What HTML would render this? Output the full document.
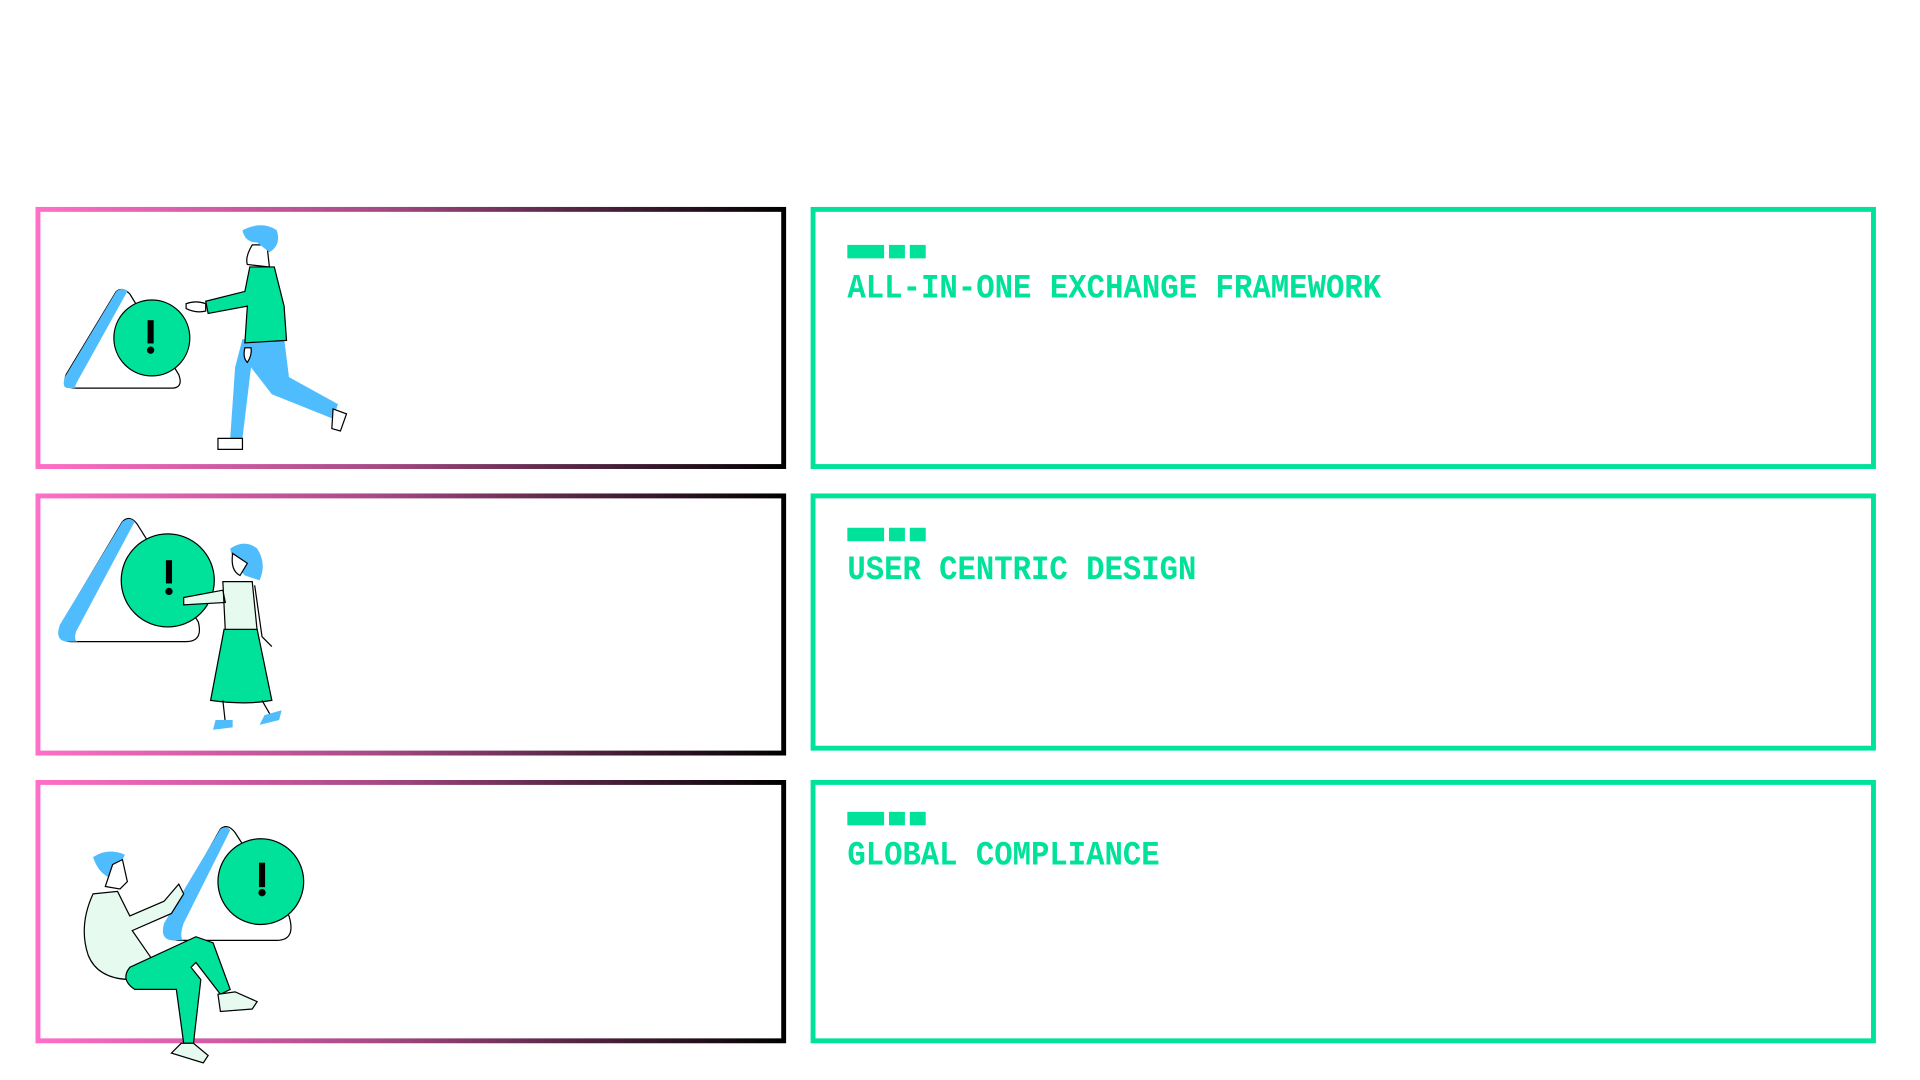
<!DOCTYPE html>
<html><head><meta charset="utf-8"><style>
html,body{margin:0;padding:0;background:#fff;width:1920px;height:1080px;overflow:hidden}
svg{display:block}
.t{font-family:"Liberation Mono",monospace;font-weight:bold;fill:#00e29a;font-size:28px}
</style></head><body>
<svg width="1920" height="1080" viewBox="0 0 1568 882" xmlns="http://www.w3.org/2000/svg">
<defs>
<linearGradient id="pk" x1="0" x2="1" y1="0" y2="0">
<stop offset="0" stop-color="#ff6ec7"/><stop offset="0.45" stop-color="#a84a85"/><stop offset="1" stop-color="#000"/>
</linearGradient>
</defs>
<g fill="none" stroke="url(#pk)" stroke-width="4">
<rect x="31" y="171" width="609" height="210"/>
<rect x="31" y="405" width="609" height="210"/>
<rect x="31" y="639" width="609" height="211"/>
</g>
<g fill="none" stroke="#00e29a" stroke-width="4">
<rect x="664" y="171" width="866" height="210"/>
<rect x="664" y="405" width="866" height="206"/>
<rect x="664" y="639" width="866" height="211"/>
</g>
<g fill="#00e29a">
<rect x="692" y="200" width="30" height="11"/><rect x="726" y="200" width="13" height="11"/><rect x="743" y="200" width="13" height="11"/>
<rect x="692" y="431" width="30" height="11"/><rect x="726" y="431" width="13" height="11"/><rect x="743" y="431" width="13" height="11"/>
<rect x="692" y="663" width="30" height="11"/><rect x="726" y="663" width="13" height="11"/><rect x="743" y="663" width="13" height="11"/>
</g>
<text class="t" x="692" y="243" textLength="436" lengthAdjust="spacingAndGlyphs">ALL-IN-ONE EXCHANGE FRAMEWORK</text>
<text class="t" x="692" y="473" textLength="285" lengthAdjust="spacingAndGlyphs">USER CENTRIC DESIGN</text>
<text class="t" x="692" y="706" textLength="255" lengthAdjust="spacingAndGlyphs">GLOBAL COMPLIANCE</text>

<!-- figure 1 -->
<g stroke="#000" stroke-width="1">
<path d="M95 238 Q100 234 106 240 L146 306 Q150 317 140 317 L62 317 Q50 317 54 306 Z" fill="#fff"/>
<path d="M95 238 Q100 234 104 238 L64 310 Q60 317 62 317 L56 317 Q50 317 53 308 Z" fill="#4fbdfd" stroke="none"/>
<circle cx="124" cy="276" r="31" fill="#00e29a"/>
<rect x="121" y="262" width="4" height="18" fill="#000"/><circle cx="123" cy="286" r="2.5" fill="#000"/>
<path d="M198 277 L192 300 L188 358 L198 358 L205 300 L222 322 L272 342 L276 330 L236 308 L232 276 Z" fill="#4fbdfd" stroke="none"/>
<path d="M178 358 L198 358 L198 367 L178 367 Z M272 334 L283 338 L278 352 L271 350 Z" fill="#fff"/>
<path d="M204 218 L224 218 L232 250 L234 278 L200 280 L202 250 L170 256 L168 246 L200 238 Z" fill="#00e29a"/>
<path d="M152 248 Q160 245 168 248 L168 254 Q160 256 152 252 Z" fill="#fff"/>
<path d="M206 200 Q200 210 202 216 L220 218 L218 200 Z" fill="#fff"/>
<path d="M198 188 Q214 180 226 188 Q230 200 220 206 L210 198 Q200 198 198 188Z" fill="#4fbdfd" stroke="none"/>
<path d="M200 284 Q198 292 202 296 Q206 290 205 284Z" fill="#fff"/>
</g>
<!-- figure 2 -->
<g stroke="#000" stroke-width="1">
<path d="M100 426 Q106 420 112 428 L162 508 Q166 524 152 524 L58 524 Q46 524 50 510 Z" fill="#fff"/>
<path d="M100 426 Q106 422 110 426 L62 516 Q60 524 64 524 L56 524 Q44 524 49 510 Z" fill="#4fbdfd" stroke="none"/>
<circle cx="137" cy="474" r="38" fill="#00e29a"/>
<rect x="136" y="458" width="4" height="18" fill="#000"/><circle cx="138" cy="483" r="2.5" fill="#000"/>
<path d="M182 475 L206 475 L210 515 L184 515 Z M182 482 L150 488 L150 494 L184 492Z" fill="#e6faf0"/>
<path d="M183 514 L210 514 L222 572 Q200 576 172 572 Z" fill="#00e29a"/>
<path d="M182 572 L184 590 M214 572 L222 586" fill="none"/>
<path d="M176 588 L190 588 L190 594 L174 596Z M216 584 L230 580 L228 588 L212 592Z" fill="#4fbdfd" stroke="none"/>
<path d="M188 448 Q200 440 210 448 Q218 460 212 474 L200 470 Q190 460 188 448Z" fill="#4fbdfd" stroke="none"/>
<path d="M190 452 Q188 466 196 470 L202 460Z" fill="#fff"/>
<path d="M208 478 L214 520 L222 528" fill="none"/>
</g>
<!-- figure 3 -->
<g stroke="#000" stroke-width="1">
<path d="M180 677 Q186 672 192 680 L236 748 Q242 768 226 768 L148 768 Q132 768 138 752 Z" fill="#fff"/>
<path d="M180 677 Q186 674 188 678 L150 754 Q146 766 150 768 L142 768 Q130 768 134 754 Z" fill="#4fbdfd" stroke="none"/>
<circle cx="213" cy="720" r="35" fill="#00e29a"/>
<rect x="212" y="705" width="4" height="19" fill="#000"/><circle cx="214" cy="729" r="2.5" fill="#000"/>
<path d="M76 730 L96 728 L106 748 L134 736 L146 722 L150 730 L140 746 L108 760 L126 786 L108 800 Q80 800 72 780 Q64 756 76 730Z" fill="#e6faf0"/>
<path d="M106 790 L160 765 L174 770 L188 808 L180 812 L160 786 L156 790 L164 800 L158 852 L150 852 L144 808 L110 808 Q98 800 106 790Z" fill="#00e29a"/>
<path d="M178 812 L192 810 L210 818 L206 824 L180 826Z M148 852 L158 852 L170 862 L166 868 L140 860Z" fill="#e6faf0"/>
<path d="M76 700 Q88 692 102 698 Q98 706 96 712 L88 716 Q80 712 76 700Z" fill="#4fbdfd" stroke="none"/>
<path d="M92 706 L100 702 L104 720 L98 726 L86 724 Z" fill="#fff"/>
</g>
</svg>
</body></html>
